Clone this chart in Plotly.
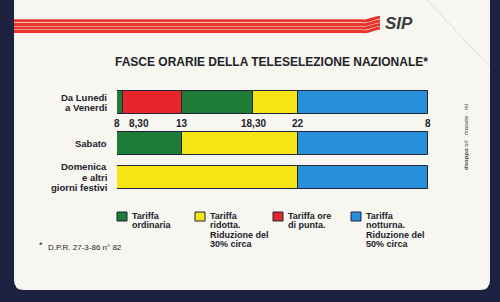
import plotly.graph_objects as go

# ---------------- data ----------------
row_labels = [["Da Lunedi", "a Venerdi"], ["Sabato"], ["Domenica", "e altri", "giorni festivi"]]
weekday_slots = [8, 8.5, 13, 18.5, 22, 32]
weekday_tariffs = ["ordinaria", "punta", "ordinaria", "ridotta", "notturna"]
saturday_slots = [8, 13, 22, 32]
saturday_tariffs = ["ordinaria", "ridotta", "notturna"]
holiday_slots = [8, 22, 32]
holiday_tariffs = ["ridotta", "notturna"]
tick_hours = [8, 8.5, 13, 18.5, 22, 32]
tick_labels = ["8", "8,30", "13", "18,30", "22", "8"]
legend_order = ["ordinaria", "ridotta", "punta", "notturna"]
legend_texts = [["Tariffa", "ordinaria"],
                ["Tariffa", "ridotta.", "Riduzione del", "30% circa"],
                ["Tariffa ore", "di punta."],
                ["Tariffa", "notturna.", "Riduzione del", "50% circa"]]
title = "FASCE ORARIE DELLA TELESELEZIONE NAZIONALE*"
footnote = "D.P.R. 27-3-86 n° 82"

# ---------------- style ----------------
COLORS = {"ordinaria": "#1e7b38", "punta": "#e6262a", "ridotta": "#f6e514", "notturna": "#2a8fdb"}
EDGE = "#1d2536"
NAVY = "#1c2240"
CARD = "#f7f6f1"
INK = "#22222a"
FONT = "Liberation Sans, Arial, sans-serif"
W, H = 500, 302
U = 33.6                       # pixels per y unit
ROW_POS = [0, 41 / U, 74.5 / U]
Y0 = 102.5                     # pixel of first row
BAR_W = 23 / U


def px(x):
    return x / W


def py(y):
    return 1 - y / H


fig = go.Figure()

rows = [(weekday_slots, weekday_tariffs), (saturday_slots, saturday_tariffs), (holiday_slots, holiday_tariffs)]
for tariff in legend_order:
    base, dur, ys = [], [], []
    for ri, (slots, tariffs) in enumerate(rows):
        for i, t in enumerate(tariffs):
            if t == tariff:
                base.append(slots[i])
                dur.append(slots[i + 1] - slots[i])
                ys.append(ROW_POS[ri])
    fig.add_trace(go.Bar(
        x=dur, y=ys, base=base, orientation="h", width=BAR_W,
        marker=dict(color=COLORS[tariff], line=dict(color=EDGE, width=1)),
        showlegend=False, hoverinfo="skip"))

shapes = []
# dark background card border + white card with rounded bottom corners
L, R, B, r = 14, 490, 290, 10
card_path = (f"M {px(L)},{py(-5)} L {px(R)},{py(-5)} L {px(R)},{py(B - r)} "
             f"Q {px(R)},{py(B)} {px(R - r)},{py(B)} L {px(L + r)},{py(B)} "
             f"Q {px(L)},{py(B)} {px(L)},{py(B - r)} Z")
shapes.append(dict(type="path", xref="paper", yref="paper", path=card_path,
                   fillcolor=CARD, line=dict(width=0), layer="below"))
# fold line top right
shapes.append(dict(type="line", xref="paper", yref="paper", x0=px(427), y0=py(0), x1=px(490), y1=py(67),
                   line=dict(color="rgba(0,0,0,0.10)", width=1), layer="below"))
# red stripes of the logo
for k, yc in enumerate([20.8, 24.4, 28.0, 31.6]):
    p = (f"M {px(L)},{py(yc)} L {px(362)},{py(yc)} "
         f"C {px(368)},{py(yc + 1.5)} {px(372)},{py(yc - 3)} {px(380)},{py(yc - 3.5)}")
    shapes.append(dict(type="path", xref="paper", yref="paper", path=p,
                       line=dict(color="#e8352c", width=3), layer="below"))

annotations = []
# title
annotations.append(dict(text=f"<b>{title}</b>", xref="paper", yref="paper", x=px(271), y=py(62),
                        xanchor="center", yanchor="middle", showarrow=False,
                        font=dict(family=FONT, size=12, color=INK)))
# SIP logo
annotations.append(dict(text="<b><i>SIP</i></b>", xref="paper", yref="paper", x=px(383), y=py(24),
                        xanchor="left", yanchor="middle", showarrow=False,
                        font=dict(family=FONT, size=17, color="#3b3b3f")))
# row labels
for ri, lines in enumerate(row_labels):
    n = len(lines)
    for li, txt in enumerate(lines):
        annotations.append(dict(text=f"<b>{txt}</b>", xref="paper", yref="y", x=px(108), y=ROW_POS[ri],
                                yshift=-(li - (n - 1) / 2) * 10.4, xanchor="right", yanchor="middle",
                                showarrow=False, borderpad=0,
                                font=dict(family=FONT, size=9.5, color=INK)))
# hour labels under the weekday bar
for h, lab in zip(tick_hours, tick_labels):
    anchor = "left" if lab == "8,30" else "center"
    annotations.append(dict(text=f"<b>{lab}</b>", xref="x", yref="y", x=h, y=ROW_POS[0],
                            yshift=-20.5, xshift=4 if anchor == "left" else 0,
                            xanchor=anchor, yanchor="middle", showarrow=False,
                            font=dict(family=FONT, size=10, color=INK)))
# legend
for i, (t, lines) in enumerate(zip(legend_order, legend_texts)):
    x0 = 117 + i * 78
    shapes.append(dict(type="rect", xref="paper", yref="paper", x0=px(x0), x1=px(x0 + 10),
                       y0=py(221), y1=py(212), fillcolor=COLORS[t], line=dict(color=EDGE, width=1)))
    for li, txt in enumerate(lines):
        annotations.append(dict(text=f"<b>{txt}</b>", xref="paper", yref="paper", x=px(x0 + 14),
                                y=py(215.8 + li * 9.5), xanchor="left", yanchor="middle", showarrow=False,
                                borderpad=0, font=dict(family=FONT, size=9, color=INK)))
# footnote
annotations.append(dict(text="*", xref="paper", yref="paper", x=px(37), y=py(245), xanchor="left",
                        yanchor="middle", showarrow=False,
                        font=dict(family=FONT, size=9, color=INK)))
annotations.append(dict(text=footnote, xref="paper", yref="paper", x=px(46), y=py(247.5), xanchor="left",
                        yanchor="middle", showarrow=False,
                        font=dict(family=FONT, size=8, color=INK)))
# printer imprint
annotations.append(dict(text="<b>dsoppo</b> srl   masate · mi", xref="paper", yref="paper", x=px(466), y=py(137),
                        xanchor="center", yanchor="middle", textangle=-90, showarrow=False,
                        font=dict(family=FONT, size=6, color="#444")))

fig.update_layout(
    width=W, height=H, margin=dict(l=0, r=0, t=0, b=0),
    paper_bgcolor=NAVY, plot_bgcolor="rgba(0,0,0,0)",
    barmode="overlay", bargap=0,
    xaxis=dict(domain=[px(117), px(428)], range=[8, 32], visible=False, fixedrange=True),
    yaxis=dict(domain=[0, 1], range=[(H - Y0) / U, -Y0 / U], visible=False, fixedrange=True),
    shapes=shapes, annotations=annotations, showlegend=False,
)
fig.write_html("out.html")
